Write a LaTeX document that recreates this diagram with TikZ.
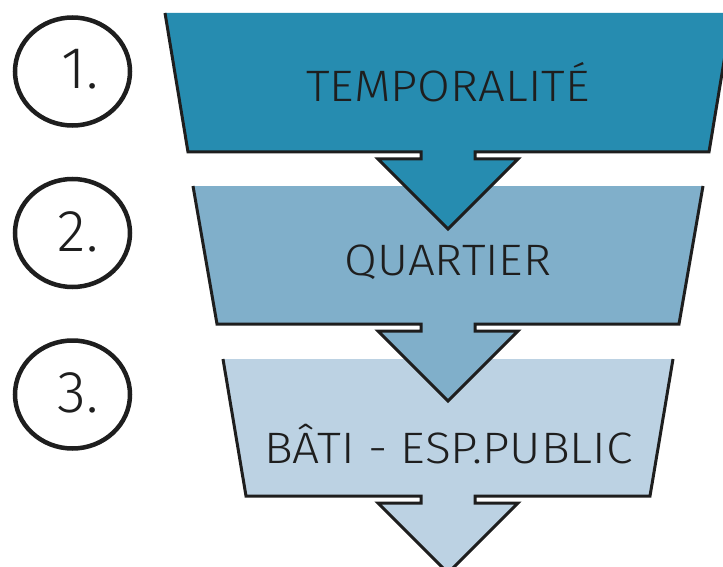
\documentclass[tikz,border=0pt]{standalone}
\usepackage{fontspec}
\setmainfont{Fira Sans Light}
\usetikzlibrary{shapes.geometric}
\definecolor{cA}{RGB}{38,140,176}
\definecolor{cB}{RGB}{128,175,202}
\definecolor{cC}{RGB}{188,210,227}
\definecolor{ink}{RGB}{30,30,30}
\tikzset{
  outline/.style={draw=ink, line width=3pt, line join=miter},
  boxtext/.style={text=ink, font=\fontsize{44}{44}\selectfont, inner sep=0pt, anchor=center, xscale=1.08},
  numring/.style={draw=ink, line width=4.5pt, ellipse, minimum width=115pt, minimum height=108pt, inner sep=0pt},
  numtext/.style={text=ink, font=\fontsize{59}{59}\selectfont, inner sep=0pt, anchor=center}
}
\begin{document}
\begin{tikzpicture}[x=1pt,y=-1pt]
\useasboundingbox (0,0) rectangle (723,567);
\fill[white] (0,0) rectangle (723,567);
\clip (0,0) rectangle (723,567);
% box 3
\fill[cC] (223,359) -- (246,496) -- (421,496) -- (421,503) -- (378,503) -- (448,573) -- (518,503) -- (475,503) -- (475,496) -- (650,496) -- (673,359) -- cycle;
\draw[outline] (223,359) -- (246,496) -- (421,496) -- (421,503) -- (378,503) -- (448,573) -- (518,503) -- (475,503) -- (475,496) -- (650,496) -- (673,359);
% box 2
\fill[cB] (193,186) -- (217,324) -- (421,324) -- (421,331) -- (378,331) -- (448,401) -- (518,331) -- (475,331) -- (475,324) -- (679,324) -- (703,186) -- cycle;
\draw[outline] (193,186) -- (217,324) -- (421,324) -- (421,331) -- (378,331) -- (448,401) -- (518,331) -- (475,331) -- (475,324) -- (679,324) -- (703,186);
% box 1
\fill[cA] (165,13) -- (188,152) -- (421,152) -- (421,159) -- (378,159) -- (448,229) -- (518,159) -- (475,159) -- (475,152) -- (709,152) -- (732,13) -- cycle;
\draw[outline] (165,13) -- (188,152) -- (421,152) -- (421,159) -- (378,159) -- (448,229) -- (518,159) -- (475,159) -- (475,152) -- (709,152) -- (732,13);
% texts
\node[boxtext] (t1) at (448,82.5) {TEMPORALITÉ};
\node[boxtext] (t2) at (448,262) {QUARTIER};
\node[boxtext, xscale=1.01] (t3) at (448.5,444) {BÂTI - ESP.PUBLIC};
% circles
\node[numring] (c1) at (72.5,71.5) {};
\node[numring] (c2) at (72.5,233) {};
\node[numring] (c3) at (72.5,394.5) {};
\node[numtext] (n1) at (80,69.5) {1.};
\node[numtext] (n2) at (78,232) {2.};
\node[numtext] (n3) at (78,392.5) {3.};
\end{tikzpicture}
\end{document}
